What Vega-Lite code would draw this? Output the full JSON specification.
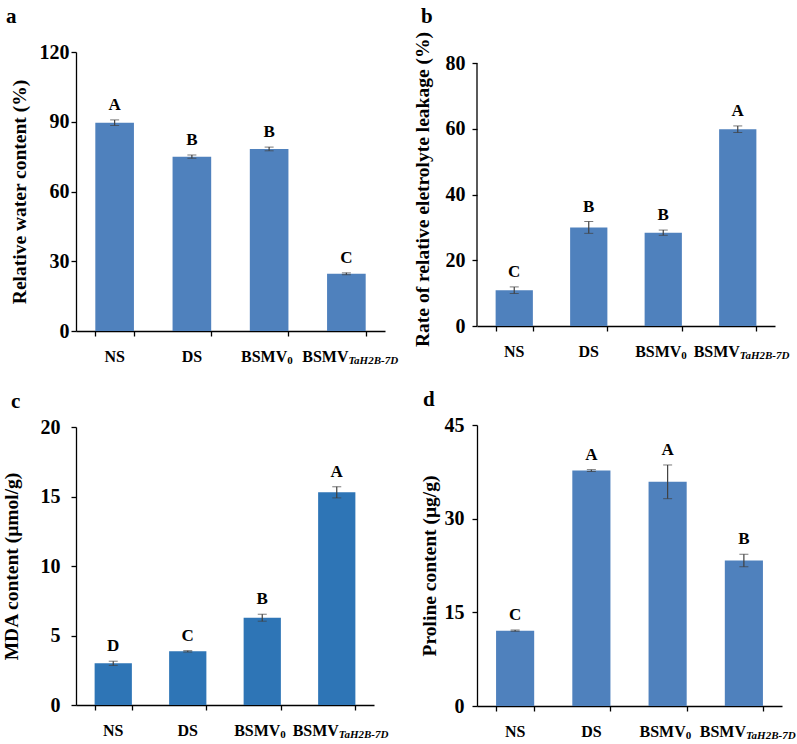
{
  "$schema": "https://vega.github.io/schema/vega-lite/v6.json",
  "background": "white",
  "padding": {"left": 1, "top": 5, "right": 0, "bottom": 0},
  "datasets": {
    "rows": [
      {"panel": "a", "cat": "NS", "label": "NS", "value": 89.6, "lo": 88.4, "hi": 90.8, "letter": "A", "sub": null},
      {"panel": "a", "cat": "DS", "label": "DS", "value": 75.0, "lo": 74.3, "hi": 75.7, "letter": "B", "sub": null},
      {"panel": "a", "cat": "BSMV0", "label": "BSMV", "value": 78.3, "lo": 77.5, "hi": 79.1, "letter": "B", "sub": "0"},
      {"panel": "a", "cat": "BSMVTaH2B-7D", "label": "BSMV", "value": 24.6, "lo": 24.2, "hi": 25.0, "letter": "C", "sub": "TaH2B-7D"},
      {"panel": "b", "cat": "NS", "label": "NS", "value": 10.9, "lo": 9.9, "hi": 11.9, "letter": "C", "sub": null},
      {"panel": "b", "cat": "DS", "label": "DS", "value": 30.0, "lo": 28.2, "hi": 31.8, "letter": "B", "sub": null},
      {"panel": "b", "cat": "BSMV0", "label": "BSMV", "value": 28.4, "lo": 27.6, "hi": 29.2, "letter": "B", "sub": "0"},
      {"panel": "b", "cat": "BSMVTaH2B-7D", "label": "BSMV", "value": 59.9, "lo": 58.9, "hi": 60.9, "letter": "A", "sub": "TaH2B-7D"},
      {"panel": "c", "cat": "NS", "label": "NS", "value": 3.0, "lo": 2.85, "hi": 3.15, "letter": "D", "sub": null},
      {"panel": "c", "cat": "DS", "label": "DS", "value": 3.86, "lo": 3.81, "hi": 3.91, "letter": "C", "sub": null},
      {"panel": "c", "cat": "BSMV0", "label": "BSMV", "value": 6.28, "lo": 6.03, "hi": 6.53, "letter": "B", "sub": "0"},
      {"panel": "c", "cat": "BSMVTaH2B-7D", "label": "BSMV", "value": 15.3, "lo": 14.9, "hi": 15.7, "letter": "A", "sub": "TaH2B-7D"},
      {"panel": "d", "cat": "NS", "label": "NS", "value": 12.07, "lo": 11.97, "hi": 12.17, "letter": "C", "sub": null},
      {"panel": "d", "cat": "DS", "label": "DS", "value": 37.7, "lo": 37.55, "hi": 37.85, "letter": "A", "sub": null},
      {"panel": "d", "cat": "BSMV0", "label": "BSMV", "value": 35.9, "lo": 33.2, "hi": 38.6, "letter": "A", "sub": "0"},
      {"panel": "d", "cat": "BSMVTaH2B-7D", "label": "BSMV", "value": 23.3, "lo": 22.3, "hi": 24.3, "letter": "B", "sub": "TaH2B-7D"}
    ]
  },
  "config": {
    "font": "Liberation Serif",
    "view": {"stroke": null},
    "axis": {
      "domainColor": "#000000",
      "tickColor": "#000000",
      "labelColor": "#000000",
      "titleColor": "#000000",
      "labelFont": "Liberation Serif",
      "titleFont": "Liberation Serif",
      "labelFontWeight": "bold",
      "titleFontWeight": "bold",
      "labelFontSize": 20,
      "titleFontSize": 19.5,
      "grid": false,
      "tickSize": 5,
      "domainWidth": 1.3,
      "tickWidth": 1.3
    },
    "text": {"font": "Liberation Serif", "fontWeight": "bold", "color": "#000000"},
    "title": {"font": "Liberation Serif", "fontSize": 21, "fontWeight": "bold", "anchor": "start", "color": "#000000"}
  },
  "spacing": 12,
  "hconcat": [
    {
      "spacing": 25,
      "vconcat": [
        {
          "title": {"text": "a", "offset": 15, "dx": -3},
          "width": 309,
          "height": 279,
          "data": {"name": "rows"},
          "transform": [{"filter": "datum.panel === 'a'"}],
          "encoding": {
            "x": {"field": "cat", "type": "nominal", "sort": null, "scale": {"paddingInner": 0.5, "paddingOuter": 0.25},
                  "axis": {"title": null, "labels": false, "tickBand": "extent"}}
          },
          "layer": [
            {"mark": {"type": "bar", "color": "#4F81BD"},
             "encoding": {"y": {"field": "value", "type": "quantitative", "scale": {"domain": [0, 120]}, "axis": {"values": [0, 30, 60, 90, 120], "titlePadding": 10, "labelPadding": 2}, "title": "Relative water content (%)"}}},
            {"mark": {"type": "errorbar", "ticks": {"size": 9, "color": "#404040"}, "rule": {"color": "#404040", "strokeWidth": 1.2}},
             "encoding": {"y": {"field": "lo", "type": "quantitative", "title": "Relative water content (%)"}, "y2": {"field": "hi"}}},
            {"mark": {"type": "text", "baseline": "bottom", "dy": -6, "fontSize": 17},
             "encoding": {"y": {"field": "hi", "type": "quantitative", "title": "Relative water content (%)"}, "text": {"field": "letter"}}},
            {"transform": [{"filter": "datum.sub === null"}],
             "mark": {"type": "text", "baseline": "top", "dy": 18, "fontSize": 16},
             "encoding": {"y": {"datum": 0}, "text": {"field": "label"}}},
            {"transform": [{"filter": "datum.cat === 'BSMV0'"}],
             "mark": {"type": "text", "baseline": "top", "dy": 18, "dx": -5, "fontSize": 16},
             "encoding": {"y": {"datum": 0}, "text": {"field": "label"}}},
            {"transform": [{"filter": "datum.cat === 'BSMVTaH2B-7D'"}],
             "mark": {"type": "text", "baseline": "top", "dy": 18, "dx": -21, "fontSize": 16},
             "encoding": {"y": {"datum": 0}, "text": {"field": "label"}}},
            {"transform": [{"filter": "datum.cat === 'BSMV0'"}],
             "mark": {"type": "text", "align": "left", "baseline": "alphabetic", "dx": 18, "dy": 33, "fontSize": 11},
             "encoding": {"y": {"datum": 0}, "text": {"field": "sub"}}},
            {"transform": [{"filter": "datum.cat === 'BSMVTaH2B-7D'"}],
             "mark": {"type": "text", "align": "left", "baseline": "alphabetic", "dx": 2, "dy": 33, "fontSize": 11, "fontStyle": "italic"},
             "encoding": {"y": {"datum": 0}, "text": {"field": "sub"}}}
          ]
        },
        {
          "title": {"text": "c", "offset": 5, "dx": 10},
          "width": 298,
          "height": 278,
          "data": {"name": "rows"},
          "transform": [{"filter": "datum.panel === 'c'"}],
          "encoding": {
            "x": {"field": "cat", "type": "nominal", "sort": null, "scale": {"paddingInner": 0.5, "paddingOuter": 0.25},
                  "axis": {"title": null, "labels": false, "tickBand": "extent"}}
          },
          "layer": [
            {"mark": {"type": "bar", "color": "#2E75B6"},
             "encoding": {"y": {"field": "value", "type": "quantitative", "scale": {"domain": [0, 20]}, "axis": {"values": [0, 5, 10, 15, 20], "titlePadding": 19, "labelPadding": 11}, "title": "MDA content (μmol/g)"}}},
            {"mark": {"type": "errorbar", "ticks": {"size": 9, "color": "#404040"}, "rule": {"color": "#404040", "strokeWidth": 1.2}},
             "encoding": {"y": {"field": "lo", "type": "quantitative", "title": "MDA content (μmol/g)"}, "y2": {"field": "hi"}}},
            {"mark": {"type": "text", "baseline": "bottom", "dy": -6, "fontSize": 17},
             "encoding": {"y": {"field": "hi", "type": "quantitative", "title": "MDA content (μmol/g)"}, "text": {"field": "letter"}}},
            {"transform": [{"filter": "datum.sub === null"}],
             "mark": {"type": "text", "baseline": "top", "dy": 18, "fontSize": 16},
             "encoding": {"y": {"datum": 0}, "text": {"field": "label"}}},
            {"transform": [{"filter": "datum.cat === 'BSMV0'"}],
             "mark": {"type": "text", "baseline": "top", "dy": 18, "dx": -5, "fontSize": 16},
             "encoding": {"y": {"datum": 0}, "text": {"field": "label"}}},
            {"transform": [{"filter": "datum.cat === 'BSMVTaH2B-7D'"}],
             "mark": {"type": "text", "baseline": "top", "dy": 18, "dx": -21, "fontSize": 16},
             "encoding": {"y": {"datum": 0}, "text": {"field": "label"}}},
            {"transform": [{"filter": "datum.cat === 'BSMV0'"}],
             "mark": {"type": "text", "align": "left", "baseline": "alphabetic", "dx": 18, "dy": 33, "fontSize": 11},
             "encoding": {"y": {"datum": 0}, "text": {"field": "sub"}}},
            {"transform": [{"filter": "datum.cat === 'BSMVTaH2B-7D'"}],
             "mark": {"type": "text", "align": "left", "baseline": "alphabetic", "dx": 2, "dy": 33, "fontSize": 11, "fontStyle": "italic"},
             "encoding": {"y": {"datum": 0}, "text": {"field": "sub"}}}
          ]
        }
      ]
    },
    {
      "spacing": 28,
      "vconcat": [
        {
          "title": {"text": "b", "offset": 5, "dx": 9},
          "width": 298,
          "height": 274,
          "data": {"name": "rows"},
          "transform": [{"filter": "datum.panel === 'b'"}],
          "encoding": {
            "x": {"field": "cat", "type": "nominal", "sort": null, "scale": {"paddingInner": 0.5, "paddingOuter": 0.25},
                  "axis": {"title": null, "labels": false, "tickBand": "extent"}}
          },
          "layer": [
            {"mark": {"type": "bar", "color": "#4F81BD"},
             "encoding": {"y": {"field": "value", "type": "quantitative", "scale": {"domain": [0, 83.4], "nice": false}, "axis": {"values": [0, 20, 40, 60, 80], "titlePadding": 13, "labelPadding": 7, "domain": false}, "title": "Rate of relative eletrolyte leakage (%)"}}},
            {"transform": [{"filter": "datum.cat === 'NS'"}],
             "mark": {"type": "rule", "color": "#000000", "strokeWidth": 1.3},
             "encoding": {"x": {"field": "cat", "type": "nominal", "bandPosition": -0.5}, "y": {"datum": 0}, "y2": {"datum": 80}}},
            {"mark": {"type": "errorbar", "ticks": {"size": 9, "color": "#404040"}, "rule": {"color": "#404040", "strokeWidth": 1.2}},
             "encoding": {"y": {"field": "lo", "type": "quantitative", "title": "Rate of relative eletrolyte leakage (%)"}, "y2": {"field": "hi"}}},
            {"mark": {"type": "text", "baseline": "bottom", "dy": -6, "fontSize": 17},
             "encoding": {"y": {"field": "hi", "type": "quantitative", "title": "Rate of relative eletrolyte leakage (%)"}, "text": {"field": "letter"}}},
            {"transform": [{"filter": "datum.sub === null"}],
             "mark": {"type": "text", "baseline": "top", "dy": 18, "fontSize": 16},
             "encoding": {"y": {"datum": 0}, "text": {"field": "label"}}},
            {"transform": [{"filter": "datum.cat === 'BSMV0'"}],
             "mark": {"type": "text", "baseline": "top", "dy": 18, "dx": -5, "fontSize": 16},
             "encoding": {"y": {"datum": 0}, "text": {"field": "label"}}},
            {"transform": [{"filter": "datum.cat === 'BSMVTaH2B-7D'"}],
             "mark": {"type": "text", "baseline": "top", "dy": 18, "dx": -21, "fontSize": 16},
             "encoding": {"y": {"datum": 0}, "text": {"field": "label"}}},
            {"transform": [{"filter": "datum.cat === 'BSMV0'"}],
             "mark": {"type": "text", "align": "left", "baseline": "alphabetic", "dx": 18, "dy": 33, "fontSize": 11},
             "encoding": {"y": {"datum": 0}, "text": {"field": "sub"}}},
            {"transform": [{"filter": "datum.cat === 'BSMVTaH2B-7D'"}],
             "mark": {"type": "text", "align": "left", "baseline": "alphabetic", "dx": 2, "dy": 33, "fontSize": 11, "fontStyle": "italic"},
             "encoding": {"y": {"datum": 0}, "text": {"field": "sub"}}}
          ]
        },
        {
          "title": {"text": "d", "offset": 5, "dx": 4},
          "width": 305,
          "height": 281,
          "data": {"name": "rows"},
          "transform": [{"filter": "datum.panel === 'd'"}],
          "encoding": {
            "x": {"field": "cat", "type": "nominal", "sort": null, "scale": {"paddingInner": 0.5, "paddingOuter": 0.25},
                  "axis": {"title": null, "labels": false, "tickBand": "extent"}}
          },
          "layer": [
            {"mark": {"type": "bar", "color": "#4F81BD"},
             "encoding": {"y": {"field": "value", "type": "quantitative", "scale": {"domain": [0, 45]}, "axis": {"values": [0, 15, 30, 45], "titlePadding": 5, "labelPadding": 8}, "title": "Proline content (μg/g)"}}},
            {"mark": {"type": "errorbar", "ticks": {"size": 9, "color": "#404040"}, "rule": {"color": "#404040", "strokeWidth": 1.2}},
             "encoding": {"y": {"field": "lo", "type": "quantitative", "title": "Proline content (μg/g)"}, "y2": {"field": "hi"}}},
            {"mark": {"type": "text", "baseline": "bottom", "dy": -6, "fontSize": 17},
             "encoding": {"y": {"field": "hi", "type": "quantitative", "title": "Proline content (μg/g)"}, "text": {"field": "letter"}}},
            {"transform": [{"filter": "datum.sub === null"}],
             "mark": {"type": "text", "baseline": "top", "dy": 18, "fontSize": 16},
             "encoding": {"y": {"datum": 0}, "text": {"field": "label"}}},
            {"transform": [{"filter": "datum.cat === 'BSMV0'"}],
             "mark": {"type": "text", "baseline": "top", "dy": 18, "dx": -5, "fontSize": 16},
             "encoding": {"y": {"datum": 0}, "text": {"field": "label"}}},
            {"transform": [{"filter": "datum.cat === 'BSMVTaH2B-7D'"}],
             "mark": {"type": "text", "baseline": "top", "dy": 18, "dx": -21, "fontSize": 16},
             "encoding": {"y": {"datum": 0}, "text": {"field": "label"}}},
            {"transform": [{"filter": "datum.cat === 'BSMV0'"}],
             "mark": {"type": "text", "align": "left", "baseline": "alphabetic", "dx": 18, "dy": 33, "fontSize": 11},
             "encoding": {"y": {"datum": 0}, "text": {"field": "sub"}}},
            {"transform": [{"filter": "datum.cat === 'BSMVTaH2B-7D'"}],
             "mark": {"type": "text", "align": "left", "baseline": "alphabetic", "dx": 2, "dy": 33, "fontSize": 11, "fontStyle": "italic"},
             "encoding": {"y": {"datum": 0}, "text": {"field": "sub"}}}
          ]
        }
      ]
    }
  ]
}
